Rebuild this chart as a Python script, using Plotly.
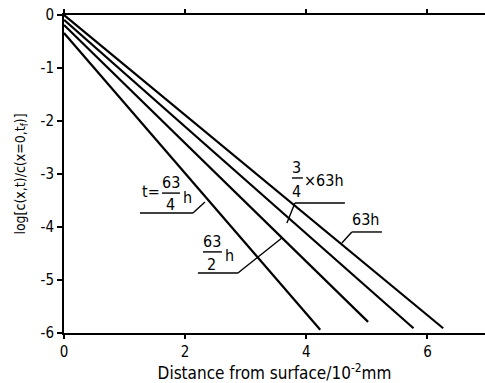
import plotly.graph_objects as go

# Data: straight profiles, log concentration vs distance (10^-2 mm)
dist_t1 = [0.0, 4.23]
logc_t1 = [-0.34, -5.94]
dist_t2 = [0.0, 5.02]
logc_t2 = [-0.19, -5.79]
dist_t3 = [0.0, 5.77]
logc_t3 = [-0.09, -5.91]
dist_t4 = [0.0, 6.26]
logc_t4 = [0.0, -5.91]

x_ticks = [0, 2, 4, 6]
y_ticks = [0, -1, -2, -3, -4, -5, -6]

FONT = "DejaVu Sans Condensed, Liberation Sans Narrow, DejaVu Sans, sans-serif"
BLACK = "black"

fig = go.Figure()
for xs, ys in [(dist_t1, logc_t1), (dist_t2, logc_t2), (dist_t3, logc_t3), (dist_t4, logc_t4)]:
    fig.add_trace(go.Scatter(x=xs, y=ys, mode="lines",
                             line=dict(color=BLACK, width=2.2), showlegend=False,
                             cliponaxis=False))

def txt(x, y, s, xanchor="center", size=16):
    fig.add_annotation(x=x, y=y, text=s, showarrow=False, xanchor=xanchor,
                       yanchor="middle", font=dict(family=FONT, size=size, color=BLACK))

def seg(pts, width=1.4):
    for (x0, y0), (x1, y1) in zip(pts[:-1], pts[1:]):
        fig.add_shape(type="line", x0=x0, y0=y0, x1=x1, y1=y1,
                      line=dict(color=BLACK, width=width))

# t = 63/4 h
txt(1.61, -3.33, "t=", xanchor="right")
txt(1.766, -3.16, "63")
seg([(1.617, -3.36), (1.914, -3.36)])
txt(1.766, -3.58, "4")
txt(1.93, -3.45, "h", xanchor="left")
seg([(1.254, -3.736), (2.129, -3.736), (2.327, -3.528)])

# 63/2 h
txt(2.442, -4.28, "63")
seg([(2.294, -4.47), (2.607, -4.47)])
txt(2.442, -4.71, "2")
txt(2.62, -4.53, "h", xanchor="left")
seg([(2.211, -4.868), (2.871, -4.868), (3.597, -4.208)])

# 3/4 x 63h
txt(3.845, -2.88, "3")
seg([(3.762, -3.075), (3.944, -3.075)])
txt(3.845, -3.33, "4")
txt(3.93, -3.13, "×63h", xanchor="left")
seg([(3.680, -3.925), (3.812, -3.547), (4.637, -3.547)])

# 63h
txt(4.983, -3.85, "63h")
seg([(4.587, -4.302), (4.752, -4.094), (5.248, -4.094)])

fig.update_layout(
    width=485, height=383,
    margin=dict(l=64, r=0, t=15, b=50),
    paper_bgcolor="white", plot_bgcolor="white",
    font=dict(family=FONT, size=15, color=BLACK),
    xaxis=dict(range=[0, 6.95], tickvals=x_ticks, ticktext=[str(v) for v in x_ticks],
               showgrid=False, zeroline=False, showline=True, linecolor=BLACK, linewidth=2,
               mirror="ticks", ticks="outside", ticklen=4, tickwidth=2, tickcolor=BLACK,
               tickfont=dict(size=15),
               title=dict(text="Distance from surface/10<sup>-2</sup>mm", standoff=4,
                          font=dict(size=17))),
    yaxis=dict(range=[-6, 0], tickvals=y_ticks, ticktext=[str(v) for v in y_ticks],
               showgrid=False, zeroline=False, showline=True, linecolor=BLACK, linewidth=2,
               ticks="outside", ticklen=5, tickwidth=2, tickcolor=BLACK,
               tickfont=dict(size=15),
               title=dict(text="log[c(x,t)/c(x=0,t<sub>f</sub>)]", standoff=12,
                          font=dict(size=14))),
)

fig.write_html("out.html")
